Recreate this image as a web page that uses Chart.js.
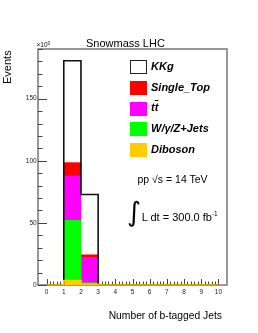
<!DOCTYPE html>
<html>
<head>
<meta charset="utf-8">
<script src="https://cdn.jsdelivr.net/npm/chart.js@4.4.0/dist/chart.umd.min.js"></script>
<style>
  body { margin: 0; background: #fff; }
  #wrap { position: relative; width: 258px; height: 333px; font-family: "Liberation Sans", Arial, sans-serif; color: #000; }
  #wrap canvas { position: absolute; left: 0; top: 0; }
  .txt { position: absolute; white-space: nowrap; line-height: 1; }
  .leg { font-weight: bold; font-style: italic; font-size: 11px; }
  .case { position: absolute; width: 17px; height: 14px; box-sizing: border-box; }
</style>
</head>
<body>
<div id="wrap">
  <canvas id="myChart" width="258" height="333"></canvas>
  <div class="txt" id="titre" style="left:86px; top:38.2px; font-size:11px;">Snowmass LHC</div>
  <div class="txt" id="events" style="left:1.7px; top:83.6px; font-size:11px; transform-origin:0 0; transform:rotate(-90deg);">Events</div>
  <div class="txt" id="echelle" style="left:36.5px; top:42px; font-size:6.5px;">×10<span style="font-size:4.5px; position:relative; top:-2.5px;">3</span></div>
  <div id="legende"></div>
  <div class="txt" style="left:137.5px; top:173.6px; font-size:10.5px;">pp √s = 14 TeV</div>
  <div class="txt" style="left:127px; top:198px; font-size:27px; font-family:'DejaVu Sans';">∫</div>
  <div class="txt" style="left:141.7px; top:211.7px; font-size:11px;">L dt = 300.0 fb<span style="font-size:6.5px; position:relative; top:-5px;">-1</span></div>
  <div class="txt" style="right:36px; top:311.3px; font-size:10.3px;">Number of b-tagged Jets</div>
</div>
<script>
    // bords des bins (nombre de jets b)
    var binEdges = [0, 1, 2, 3, 4, 5, 6, 7, 8, 9, 10];
    var yTicks = [0, 50, 100, 150];

    // evenements (x10^3) par bin
    var diboson   = [0, 3.5,  0.6, 0, 0, 0, 0, 0, 0, 0];
    var wgzJets   = [0, 48.5, 1.2, 0, 0, 0, 0, 0, 0, 0];
    var ttbar     = [0, 35.5, 20.4, 0, 0, 0, 0, 0, 0, 0];
    var singleTop = [0, 11,   2.1, 0, 0, 0, 0, 0, 0, 0];
    var kkg       = [0, 82,   48.6, 0, 0, 0, 0, 0, 0, 0];

    // ordre d'empilement (du bas vers le haut)
    var series = [
        { nom: 'Diboson',    html: 'Diboson',                 valeurs: diboson,   couleur: '#ffcc00' },
        { nom: 'W/γ/Z+Jets', html: 'W/γ/Z+Jets',              valeurs: wgzJets,   couleur: '#00ff00' },
        { nom: 'ttbar',      html: 't<span style="text-decoration:overline">t</span>', valeurs: ttbar, couleur: '#ff00ff' },
        { nom: 'Single_Top', html: 'Single_Top',              valeurs: singleTop, couleur: '#ff0000' },
        { nom: 'KKg',        html: 'KKg',                     valeurs: kkg,       couleur: '#ffffff' }
    ];

    function versPoints(valeurs) {
        return valeurs.map(function (v, i) {
            return { x: (binEdges[i] + binEdges[i + 1]) / 2, y: v };
        });
    }

    // contour en escalier d'un histogramme
    function contour(valeurs) {
        return binEdges.map(function (e, i) {
            return { x: e, y: valeurs[Math.min(i, valeurs.length - 1)] };
        });
    }

    var total = kkg.map(function (v, i) {
        return diboson[i] + wgzJets[i] + ttbar[i] + singleTop[i] + kkg[i];
    });

    var datasets = series.map(function (s) {
        return {
            type: 'bar',
            label: s.nom,
            data: versPoints(s.valeurs),
            backgroundColor: s.couleur,
            borderWidth: 0,
            barPercentage: 1,
            categoryPercentage: 1,
            order: 2
        };
    });
    datasets.push({
        type: 'line', label: 'total', stack: 'contour', data: contour(total),
        stepped: true, borderColor: '#111', borderWidth: 1.6, pointRadius: 0, fill: false, order: 1
    });
    datasets.push({
        type: 'line', label: 'dib', stack: 'contourDib', data: contour(diboson),
        stepped: true, borderColor: '#ffcc00', borderWidth: 1.6, pointRadius: 0, fill: false, order: 0
    });

    // cadre et graduations facon ROOT (vers l'interieur)
    var cadreRoot = {
        id: 'cadreRoot',
        beforeDatasetsDraw: function (chart) {
            var c = chart.ctx, a = chart.chartArea, sx = chart.scales.x, sy = chart.scales.y;
            c.save();
            c.strokeStyle = '#777';
            c.lineWidth = 1.5;
            c.strokeRect(a.left, a.top, a.right - a.left, a.bottom - a.top);
            c.strokeStyle = '#444';
            c.lineWidth = 1;
            c.beginPath();
            for (var v = 0; v <= sy.max; v += 10) {
                var py = Math.round(sy.getPixelForValue(v)) + 0.5;
                var l = (yTicks.indexOf(v) >= 0) ? 9 : 4.5;
                c.moveTo(a.left, py);
                c.lineTo(a.left + l, py);
            }
            for (var k = 0; k <= 50; k++) {
                var px = Math.round(sx.getPixelForValue(k / 5)) + 0.5;
                var l2 = (k % 5 === 0) ? 6 : 3.5;
                c.moveTo(px, a.bottom);
                c.lineTo(px, a.bottom - l2);
            }
            c.stroke();
            c.restore();
        }
    };

    const ctx = document.getElementById('myChart').getContext('2d');
    const myChart = new Chart(ctx, {
        type: 'bar',
        data: { datasets: datasets },
        options: {
            responsive: false,
            animation: false,
            devicePixelRatio: 1,
            layout: { padding: { left: 0, right: 31, top: 49, bottom: 0 } },
            plugins: {
                legend: { display: false },
                title: { display: false },
                tooltip: { enabled: false }
            },
            scales: {
                x: {
                    type: 'linear', min: 0, max: 10, stacked: true,
                    grid: { display: false, drawTicks: false }, border: { display: false },
                    ticks: {
                        stepSize: 1, padding: 3, color: '#222', maxRotation: 0, autoSkip: false,
                        font: { size: 6.5, family: '"Liberation Sans", Arial, sans-serif' }
                    },
                    afterFit: function (s) { s.height = 48; }
                },
                y: {
                    min: 0, max: 190, stacked: true,
                    grid: { display: false, drawTicks: false }, border: { display: false },
                    afterBuildTicks: function (s) { s.ticks = yTicks.map(function (v) { return { value: v }; }); },
                    ticks: {
                        padding: 1.3, color: '#222',
                        font: { size: 6.5, family: '"Liberation Sans", Arial, sans-serif' }
                    },
                    afterFit: function (s) { s.width = 38; }
                }
            }
        },
        plugins: [cadreRoot]
    });

    // legende (haut de la pile en premier)
    var legende = document.getElementById('legende');
    series.slice().reverse().forEach(function (s, i) {
        var top = 60 + 20.8 * i;
        var box = document.createElement('div');
        box.className = 'case';
        box.style.left = '129.5px';
        box.style.top = top + 'px';
        box.style.background = s.couleur;
        if (s.nom === 'KKg') box.style.border = '1.5px solid #222';
        legende.appendChild(box);
        var t = document.createElement('div');
        t.className = 'txt leg';
        t.style.left = '151px';
        t.style.top = (top + 0.7) + 'px';
        t.innerHTML = s.html;
        legende.appendChild(t);
    });
</script>
</body>
</html>
